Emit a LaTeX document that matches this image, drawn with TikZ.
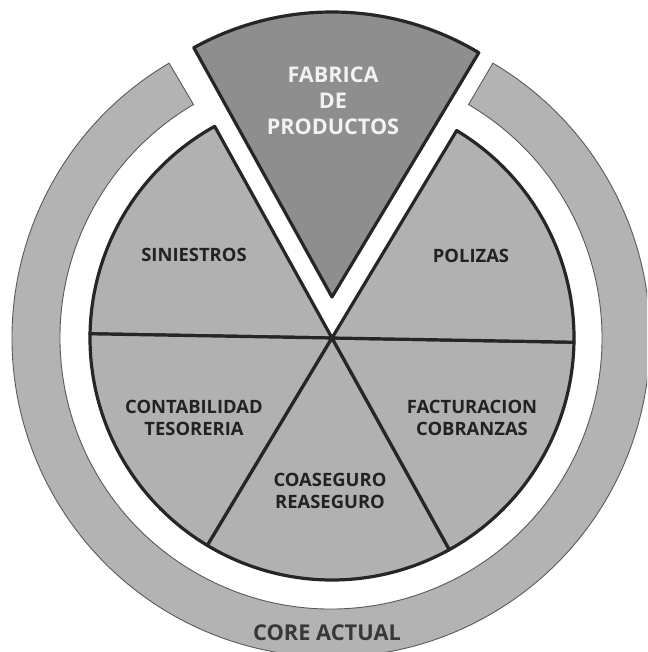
\documentclass[tikz,border=0pt]{standalone}
\usepackage{fontspec}
\setmainfont{Open Sans}
\usetikzlibrary{calc}
\definecolor{piefill}{HTML}{B1B1B1}
\definecolor{edgecol}{HTML}{262626}
\definecolor{fabfill}{HTML}{8E8E8E}
\definecolor{fabtext}{HTML}{F2F2F2}
\definecolor{ringfill}{HTML}{B3B3B3}
\definecolor{ringedge}{HTML}{5A5A5A}
\definecolor{labtext}{HTML}{222222}
\definecolor{coretext}{HTML}{383838}
\begin{document}
\begin{tikzpicture}[x=1pt,y=1pt,
  sector/.style={fill=piefill, draw=edgecol, line width=3.2pt, line join=round},
  fabsector/.style={fill=fabfill, draw=edgecol, line width=3.2pt, line join=round},
  ringstyle/.style={fill=ringfill, draw=ringedge, line width=0.9pt},
  lab/.style={text=labtext, align=center, inner sep=0pt, font=\fontsize{18.4}{22}\selectfont\bfseries},
  fablab/.style={text=fabtext, align=center, inner sep=0pt, font=\fontsize{21.6}{26}\selectfont\bfseries},
  corelab/.style={text=coretext, inner sep=0pt, font=\fontsize{21.8}{25}\selectfont\bfseries}]
\useasboundingbox (0,0) rectangle (647,-652);
\clip (0,0) rectangle (647,-652);
\fill[white] (0,0) rectangle (647,-652);
\coordinate (C) at (332,-338);
\coordinate (R) at (331,-338);
\coordinate (A) at (332,-297);
% outer ring
\filldraw[ringstyle] ($(R)+(120.5:319)$) arc[start angle=120.5, end angle=419.5, radius=319]
  -- ($(R)+(59.5:271)$) arc[start angle=419.5, end angle=120.5, radius=271] -- cycle;
% pie sectors
\foreach \a in {120,180,240,300,0}{
  \filldraw[sector] (C) -- ($(C)+(\a-1:242)$) arc[start angle=\a-1, delta angle=60, radius=242] -- cycle;
}
% exploded sector
\filldraw[fabsector] (A) -- ($(A)+(59:285)$) arc[start angle=59, end angle=119, radius=285] -- cycle;
% labels
\node[fablab] (fab) at (333,-101) {FABRICA\\DE\\PRODUCTOS};
\node[lab] (sin) at (194,-255) {SINIESTROS};
\node[lab] (pol) at (471,-256) {POLIZAS};
\node[lab] (con) at (194,-418) {CONTABILIDAD\\TESORERIA};
\node[lab] (fac) at (472,-418) {FACTURACION\\COBRANZAS};
\node[lab] (coa) at (330,-491) {COASEGURO\\REASEGURO};
\node[corelab] (core) at (327,-633) {CORE ACTUAL};
\end{tikzpicture}
\end{document}
